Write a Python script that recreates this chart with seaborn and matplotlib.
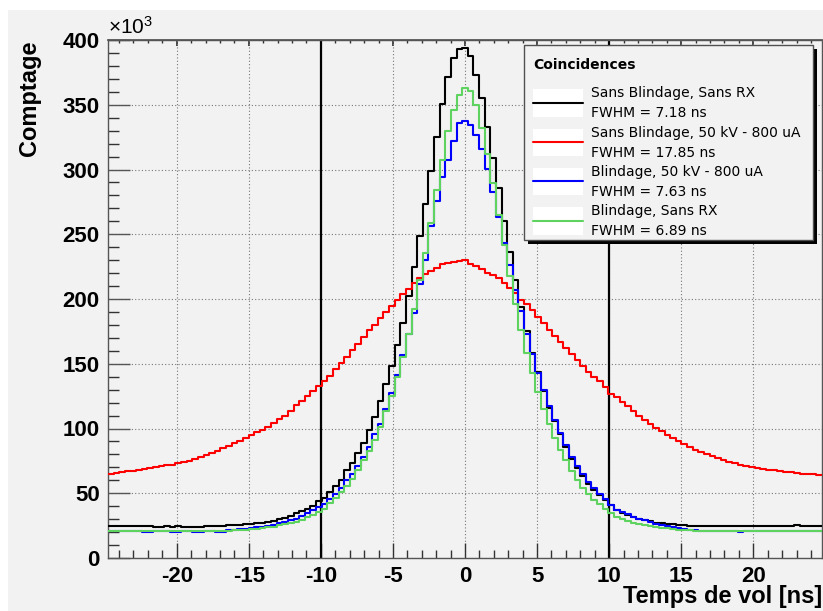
import numpy as np
import pandas as pd
import matplotlib
matplotlib.use("Agg")
import matplotlib.pyplot as plt
from matplotlib.patches import Rectangle
from matplotlib.ticker import MultipleLocator
import seaborn as sns

# 127 bins of 0.39 ns, bin 0 centred on t = 0
BIN_WIDTH = 0.39
bin_index = np.arange(-63, 64)
centres = bin_index * BIN_WIDTH
edges = np.append(centres - BIN_WIDTH / 2, centres[-1] + BIN_WIDTH / 2)

# counts (x10^3) per bin
noir = [
    25.0, 24.9, 25.0, 24.9, 24.9, 25.0, 24.8,
    24.6, 24.3, 24.2, 24.4, 24.1, 24.5, 24.2, 24.1, 24.3, 24.2, 24.4, 24.5, 24.6, 24.9,
    25.1, 25.4, 25.6, 25.9, 26.3, 26.8, 27.3, 27.9, 28.6, 29.8, 31.0, 32.5, 34.9,
    36.4, 38.2, 40.0, 43.8, 46.7, 50.8, 55.4, 60.5, 67.7, 73.3, 81.0, 88.7, 98.5, 109.0,
    121.0, 134.0, 148.0, 164.6, 181.8, 202.0, 224.6, 248.5, 273.3, 298.5, 325.4, 350.5,
    371.5, 386.0, 392.8,
    393.8, 388.0, 373.0, 355.0, 333.0, 308.7, 285.6, 260.5, 236.0, 214.4, 193.8, 175.4,
    158.2, 143.3, 129.0, 116.0, 105.6, 95.4, 85.6, 76.7, 69.7, 63.0, 57.0, 52.8, 48.5,
    44.6, 40.8, 37.4, 34.9, 33.0,
    31.5, 30.2, 29.0, 28.2, 27.4, 26.8, 26.3, 25.9, 25.5, 25.2, 25.0, 24.9, 24.8, 24.9,
    25.0, 24.8, 24.9, 24.7, 24.9, 25.0, 24.8, 24.9, 24.6, 24.9, 24.9, 25.0, 24.8, 24.9,
    24.9, 25.5, 24.9, 24.8, 24.9, 24.8,
]
rouge = [
    65.0, 65.6, 66.2, 66.8, 67.5, 68.2, 69.0, 69.6, 70.3, 70.9, 71.5, 72.2, 73.0, 74.0,
    75.2, 76.6, 78.0, 79.8, 81.2, 82.8, 84.8, 86.6, 88.7, 90.4, 92.8, 95.0, 97.0, 99.2,
    101.5, 104.5, 107.0, 110.0, 113.5, 118.0, 121.5, 125.4, 129.2, 133.0,
    137.0, 140.8, 146.0, 150.2, 155.4, 160.5, 165.0, 170.8, 176.0, 180.0, 185.0, 190.2,
    194.6, 199.0, 203.6, 208.0, 212.5, 216.4, 219.0, 221.5, 224.0, 227.0, 228.0, 228.7,
    229.0,
    230.5, 227.2, 225.4, 222.8, 220.3, 218.5, 215.9, 212.6, 208.7, 204.9, 199.0, 195.9,
    191.3, 186.2, 181.8, 175.9, 171.5, 166.9, 162.1, 157.4, 153.0, 148.4, 144.0, 139.9,
    136.4, 131.8,
    126.7, 124.0, 120.5, 117.0, 113.5, 110.0, 106.7, 103.6, 100.6, 97.8, 95.0, 92.5,
    90.0, 87.7, 85.4, 83.5, 81.8, 80.0, 78.6, 77.0, 75.7, 74.5, 73.3, 72.2, 71.3, 70.3,
    69.4, 68.8, 68.1, 67.6, 67.1, 66.7, 66.2, 65.6, 65.2, 64.9, 64.6, 64.4,
]
bleu = [
    20.8, 20.8, 20.8, 20.8, 20.8, 20.9, 19.9, 20.0, 20.8, 20.9, 20.8, 19.9, 20.0, 20.9,
    20.9, 20.1, 20.0, 21.0, 21.0, 20.0, 20.2, 21.4, 21.7, 22.1, 22.5, 23.0, 23.6, 24.2,
    25.0, 25.8, 26.7, 27.8, 29.0, 30.5,
    32.3, 34.4, 36.9, 39.5, 42.0, 45.6, 49.7, 54.4, 60.0, 64.6, 70.8, 77.9, 85.6, 95.9,
    103.6, 115.2, 127.2, 141.0, 157.0, 173.3, 189.5, 211.3, 230.5, 256.0, 276.0, 294.0,
    307.4, 322.0, 335.6,
    337.5, 334.4, 327.0, 316.0, 300.6, 283.0, 263.0, 243.0, 226.2, 206.7, 190.8, 172.8,
    157.4, 142.5, 129.5, 117.7, 106.2, 96.4, 86.9, 77.9, 70.8, 64.6, 58.7, 54.4, 49.2,
    45.2, 40.8, 37.4, 35.6, 33.8,
    32.0, 30.4, 29.0, 27.6, 26.6, 25.7, 24.8, 24.0, 23.2, 22.5, 21.9, 21.5, 21.2, 21.0,
    20.8, 20.8, 20.9, 20.8, 20.8, 19.8, 20.8, 20.9, 20.8, 20.8, 20.8, 20.9, 20.8, 20.8,
    20.8, 20.9, 20.8, 20.8, 20.8, 20.8,
]
vert = [
    20.9, 20.9, 20.9, 20.9, 20.9, 20.9, 20.9, 20.9, 20.9, 20.9, 20.9, 20.9, 20.9, 20.9,
    20.9, 20.9, 20.9, 20.9, 20.9, 20.9,
    21.0, 21.2, 21.4, 21.6, 21.9, 22.2, 22.6, 23.1, 23.6, 24.3, 25.1, 26.0, 26.9, 28.0,
    29.3, 31.3, 33.0, 35.6, 38.2, 42.6, 46.7, 51.0, 55.4, 61.3, 67.7, 75.4, 82.6, 90.8,
    101.0, 113.3, 125.4, 139.8, 155.5, 172.8, 192.0, 214.4, 235.6, 258.7, 284.4, 307.5,
    329.7, 346.0, 357.4,
    362.6, 360.5, 350.0, 332.0, 311.8, 289.5, 264.6, 242.0, 217.7, 196.4, 176.0, 158.2,
    142.8, 128.5, 115.0, 103.6, 92.8, 83.6, 75.4, 67.2, 60.5, 54.4, 49.2, 45.1, 41.5,
    38.2, 34.4, 31.8, 29.8, 28.5,
    27.3, 26.3, 25.4, 24.6, 23.9, 23.3, 22.8, 22.3, 22.0, 21.7, 21.4, 21.2, 21.1,
    20.9, 20.9, 20.9, 20.9, 20.9, 20.9, 20.9, 20.9, 20.9, 20.9, 20.9, 20.9, 20.9, 20.9,
    20.9, 20.9, 20.9, 20.9, 20.9, 20.9, 20.9,
]

series = ["Sans Blindage, Sans RX", "Sans Blindage, 50 kV - 800 uA",
          "Blindage, 50 kV - 800 uA", "Blindage, Sans RX"]
fwhm = [7.18, 17.85, 7.63, 6.89]
colors = ["#000000", "#ff0000", "#0000ff", "#5fd35f"]
x_ticks = [-20, -15, -10, -5, 0, 5, 10, 15, 20]
y_ticks = [0, 50, 100, 150, 200, 250, 300, 350, 400]
fenetre = [-10, 10]

W, H = 823, 611
BG = "#f2f2f2"


def fx(px):
    return px / W


def fy(py):
    return 1 - py / H


sns.set_theme(style="ticks")
plt.rcParams["font.family"] = ["Liberation Sans", "DejaVu Sans"]
plt.rcParams["mathtext.fontset"] = "custom"
plt.rcParams["mathtext.rm"] = "Liberation Sans"
plt.rcParams["text.color"] = "black"
plt.rcParams["xtick.labelcolor"] = "black"
plt.rcParams["ytick.labelcolor"] = "black"

df = pd.DataFrame({
    "temps": np.tile(centres, 4),
    "comptage": np.concatenate([noir, rouge, bleu, vert]),
    "serie": np.repeat(series, len(centres)),
})

fig = plt.figure(figsize=(W / 100, H / 100), dpi=100, facecolor="white")
fig.add_artist(Rectangle((fx(8), 0), 1, fy(10), transform=fig.transFigure,
                         facecolor=BG, edgecolor="none", zorder=-10))

ax = fig.add_axes([fx(108), fy(558), fx(822) - fx(108), fy(40) - fy(558)])
ax.set_facecolor(BG)

for x0 in fenetre:
    ax.axvline(x0, color="black", lw=1.6, zorder=1.5)

for name, color in zip(series, colors):
    sns.histplot(data=df[df["serie"] == name], x="temps", weights="comptage",
                 bins=edges.tolist(), element="step", fill=False, color=color,
                 linewidth=1.5, ax=ax, zorder=3)

ax.set_xlabel("")
ax.set_ylabel("")
ax.set_xlim(edges[0], edges[-1])
ax.set_ylim(0, 400)

ax.set_xticks(x_ticks, labels=[str(t) for t in x_ticks], fontweight="bold",
              fontsize=16, color="black")
ax.set_yticks(y_ticks, labels=[str(t) for t in y_ticks], fontweight="bold",
              fontsize=16, color="black")
ax.xaxis.set_minor_locator(MultipleLocator(1))
ax.yaxis.set_minor_locator(MultipleLocator(10))
ax.tick_params(axis="x", which="major", direction="in", length=10.5, width=1, color="#333333", pad=6)
ax.tick_params(axis="x", which="minor", direction="in", length=5.5, width=1, color="#333333")
ax.tick_params(axis="y", which="major", direction="in", length=15.5, width=1, color="#555555", pad=6)
ax.tick_params(axis="y", which="minor", direction="in", length=7.7, width=1, color="#333333")
ax.grid(True, which="major", linestyle=(0, (1, 2)), color="#777777", linewidth=0.8)
for sp in ax.spines.values():
    sp.set_color("#555555")
    sp.set_linewidth(1)
    sp.set_visible(True)

top = ax.secondary_xaxis("top")
top.set_xticks(x_ticks)
top.xaxis.set_minor_locator(MultipleLocator(1))
top.tick_params(which="major", direction="in", length=4, labeltop=False, color="#333333")
top.tick_params(which="minor", direction="in", length=2, labeltop=False, color="#333333")
top.spines["top"].set_color("#555555")

ax.text(0, 1.004, r"$\mathregular{\times10^{3}}$", transform=ax.transAxes,
        ha="left", va="bottom", fontsize=15, color="black")
fig.text(fx(30), fy(41), "Comptage", rotation=90, ha="center", va="top",
         fontsize=17, fontweight="bold", color="black")
fig.text(fx(822), fy(597), "Temps de vol [ns]", ha="right", va="center",
         fontsize=17, fontweight="bold", color="black")

# legend box drawn in pixel coordinates
lax = fig.add_axes([fx(520), fy(248), fx(822) - fx(520), fy(42) - fy(248)])
lax.set_xlim(520, 822)
lax.set_ylim(248, 42)
lax.axis("off")
lax.add_patch(Rectangle((528, 49), 289, 195, facecolor="black", edgecolor="none"))
lax.add_patch(Rectangle((524, 45), 289, 195, facecolor=BG, edgecolor="#505050", lw=1))
lax.text(533, 65, "Coincidences", ha="left", va="center", fontsize=10,
         fontweight="bold", family="DejaVu Sans", color="black")
for i, (name, w, color) in enumerate(zip(series, fwhm, colors)):
    top_y = 89.3 + 39.3 * i
    lax.add_patch(Rectangle((533, top_y), 50, 27.5, facecolor="white", edgecolor="none"))
    lax.plot([533, 583], [top_y + 13.5, top_y + 13.5], color=color, lw=1.5)
    lax.text(591, top_y + 4, name, ha="left", va="center", fontsize=10,
             family="DejaVu Sans", color="black")
    lax.text(591, top_y + 24, f"FWHM = {w:.2f} ns", ha="left", va="center",
             fontsize=10, family="DejaVu Sans", color="black")

fig.savefig("out.png", dpi=100, facecolor=fig.get_facecolor())
